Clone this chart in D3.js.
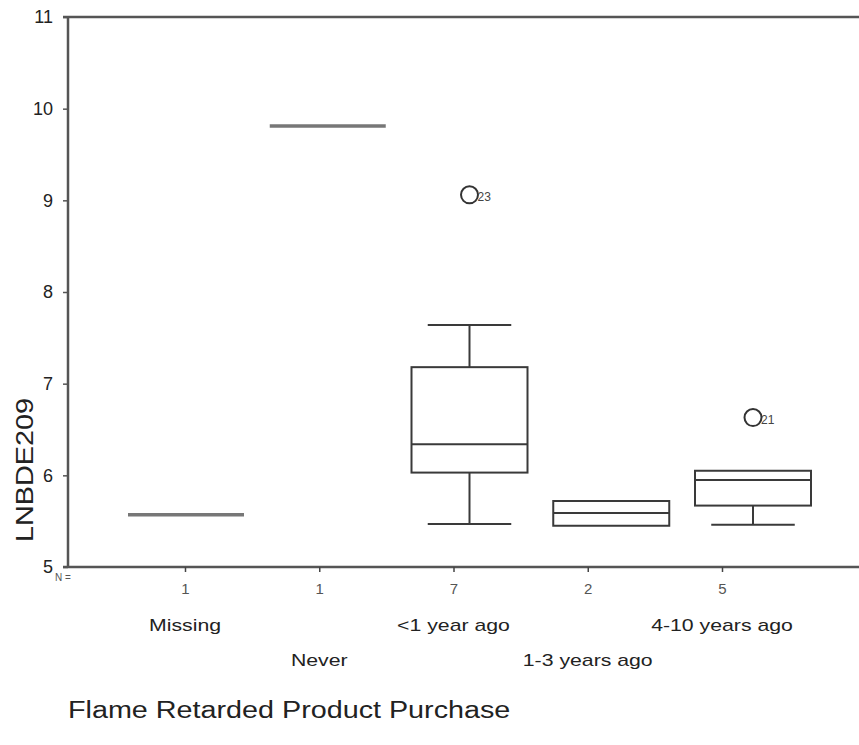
<!DOCTYPE html>
<html>
<head>
<meta charset="utf-8">
<script src="https://cdn.jsdelivr.net/npm/d3@7"></script>
<style>
  body { margin: 0; background: #fff; }
  svg { font-family: "Liberation Sans", Arial, sans-serif; }
</style>
</head>
<body>
<div id="chart"></div>
<script>
// chart data
var categories = ["Missing", "Never", "<1 year ago", "1-3 years ago", "4-10 years ago"];
var counts = [1, 1, 7, 2, 5];
// five-number summaries: [low whisker, q1, median, q3, high whisker]
var lows    = [5.57, 9.81, 5.47, 5.45, 5.46];
var q1s     = [5.57, 9.81, 6.03, 5.45, 5.67];
var medians = [5.57, 9.81, 6.34, 5.59, 5.95];
var q3s     = [5.57, 9.81, 7.18, 5.72, 6.05];
var highs   = [5.57, 9.81, 7.64, 5.72, 6.05];
var outliers = [
  { cat: "<1 year ago", value: 9.06, id: "23" },
  { cat: "4-10 years ago", value: 6.63, id: "21" }
];
var yTicks = [5, 6, 7, 8, 9, 10, 11];

var svgWidth = 859;
var svgHeight = 745;

var svg = d3.select("#chart")
  .append("svg")
  .attr("width", svgWidth)
  .attr("height", svgHeight);

var axisLeftX = 68;
var plotTop = 17;
var plotBottom = 567;
// the scanned fonts are wide, so text gets stretched sideways a bit
var stretch = 1.25;

var yScale = d3.scaleLinear()
  .domain([5, 11])
  .range([plotBottom, plotTop]);

// boxes and tick labels drift apart a bit in the original, so two point scales
var xBox = d3.scalePoint()
  .domain(categories)
  .range([186, 753]);

var xTick = d3.scalePoint()
  .domain(categories)
  .range([185, 722]);

var boxWidth = 116;
var lineColor = "#3a3a3a";

var data = categories.map(function(c, i) {
  return { cat: c, n: counts[i], low: lows[i], q1: q1s[i], med: medians[i], q3: q3s[i], high: highs[i] };
});

// frame: left axis, top line, bottom axis
var leftAxis = d3.axisLeft(yScale)
  .tickValues(yTicks)
  .tickSize(5)
  .tickPadding(10)
  .tickFormat(d3.format("d"));

var gy = svg.append("g")
  .attr("transform", `translate(${axisLeftX}, 0)`)
  .call(leftAxis);
gy.select(".domain").remove();
gy.selectAll(".tick line").attr("stroke", "#555").attr("stroke-width", 1.5);
gy.selectAll(".tick text")
  .attr("font-size", 18)
  .attr("fill", "#222")
  .style("font-family", "Liberation Sans, Arial, sans-serif");

svg.append("line")
  .attr("x1", axisLeftX).attr("x2", axisLeftX)
  .attr("y1", plotTop).attr("y2", plotBottom)
  .attr("stroke", "#555").attr("stroke-width", 2.5);

svg.append("line")
  .attr("x1", axisLeftX - 5).attr("x2", svgWidth)
  .attr("y1", plotTop).attr("y2", plotTop)
  .attr("stroke", "#555").attr("stroke-width", 2.5);

svg.append("line")
  .attr("x1", axisLeftX - 5).attr("x2", svgWidth)
  .attr("y1", plotBottom).attr("y2", plotBottom)
  .attr("stroke", "#555").attr("stroke-width", 2.5);

// bottom ticks + N counts
var bottomAxis = d3.axisBottom(xTick)
  .tickSize(5)
  .tickPadding(11)
  .tickFormat(function(d, i) { return counts[i]; });

var gx = svg.append("g")
  .attr("transform", `translate(0, ${plotBottom})`)
  .call(bottomAxis);
gx.select(".domain").remove();
gx.selectAll(".tick line").attr("stroke", "#444").attr("stroke-width", 1.5);
gx.selectAll(".tick text")
  .attr("font-size", 15)
  .attr("fill", "#555")
  .style("font-family", "Liberation Sans, Arial, sans-serif");

svg.append("text")
  .attr("x", 55)
  .attr("y", plotBottom + 14)
  .attr("font-size", 10)
  .attr("fill", "#555")
  .text("N =");

// category labels, staggered on two rows
svg.selectAll("text.catlabel")
  .data(categories)
  .enter()
  .append("text")
  .attr("class", "catlabel")
  .attr("transform", (d, i) => `translate(${xTick(d)}, ${i % 2 === 0 ? 631 : 666}) scale(${stretch}, 1)`)
  .attr("text-anchor", "middle")
  .attr("font-size", 17)
  .attr("fill", "#222")
  .text(d => d);

// boxes
var boxes = svg.selectAll("g.box")
  .data(data)
  .enter()
  .append("g")
  .attr("class", "box");

// single-value groups drawn as a plain grey bar
boxes.filter(d => d.n === 1)
  .append("line")
  .attr("x1", d => xBox(d.cat) - boxWidth / 2)
  .attr("x2", d => xBox(d.cat) + boxWidth / 2)
  .attr("y1", d => yScale(d.med))
  .attr("y2", d => yScale(d.med))
  .attr("stroke", "#777")
  .attr("stroke-width", 3.5);

var multi = boxes.filter(d => d.n > 1);

// whiskers
multi.filter(d => d.high > d.q3)
  .append("line")
  .attr("x1", d => xBox(d.cat)).attr("x2", d => xBox(d.cat))
  .attr("y1", d => yScale(d.high)).attr("y2", d => yScale(d.q3))
  .attr("stroke", lineColor).attr("stroke-width", 2);
multi.filter(d => d.high > d.q3)
  .append("line")
  .attr("x1", d => xBox(d.cat) - boxWidth * 0.36)
  .attr("x2", d => xBox(d.cat) + boxWidth * 0.36)
  .attr("y1", d => yScale(d.high)).attr("y2", d => yScale(d.high))
  .attr("stroke", lineColor).attr("stroke-width", 2);
multi.filter(d => d.low < d.q1)
  .append("line")
  .attr("x1", d => xBox(d.cat)).attr("x2", d => xBox(d.cat))
  .attr("y1", d => yScale(d.q1)).attr("y2", d => yScale(d.low))
  .attr("stroke", lineColor).attr("stroke-width", 2);
multi.filter(d => d.low < d.q1)
  .append("line")
  .attr("x1", d => xBox(d.cat) - boxWidth * 0.36)
  .attr("x2", d => xBox(d.cat) + boxWidth * 0.36)
  .attr("y1", d => yScale(d.low)).attr("y2", d => yScale(d.low))
  .attr("stroke", lineColor).attr("stroke-width", 2);

multi.append("rect")
  .attr("x", d => xBox(d.cat) - boxWidth / 2)
  .attr("y", d => yScale(d.q3))
  .attr("width", boxWidth)
  .attr("height", d => yScale(d.q1) - yScale(d.q3))
  .attr("fill", "none")
  .attr("stroke", lineColor)
  .attr("stroke-width", 2);

multi.append("line")
  .attr("x1", d => xBox(d.cat) - boxWidth / 2)
  .attr("x2", d => xBox(d.cat) + boxWidth / 2)
  .attr("y1", d => yScale(d.med))
  .attr("y2", d => yScale(d.med))
  .attr("stroke", lineColor)
  .attr("stroke-width", 2);

// outliers, drawn as O with case number
var outs = svg.selectAll("g.outlier")
  .data(outliers)
  .enter()
  .append("g")
  .attr("class", "outlier");

outs.append("ellipse")
  .attr("cx", d => xBox(d.cat))
  .attr("cy", d => yScale(d.value))
  .attr("rx", 8.5)
  .attr("ry", 8.5)
  .attr("fill", "none")
  .attr("stroke", "#333")
  .attr("stroke-width", 2);

outs.append("text")
  .attr("x", d => xBox(d.cat) + 8)
  .attr("y", d => yScale(d.value) + 6)
  .attr("font-size", 12)
  .attr("fill", "#444")
  .text(d => d.id);

// axis titles
svg.append("text")
  .attr("transform", "translate(33, 470) rotate(-90) scale(1.2, 1)")
  .attr("text-anchor", "middle")
  .attr("font-size", 24)
  .attr("fill", "#222")
  .text("LNBDE209");

svg.append("text")
  .attr("transform", `translate(68, 718) scale(${stretch}, 1)`)
  .attr("font-size", 23)
  .attr("fill", "#222")
  .text("Flame Retarded Product Purchase");
</script>
</body>
</html>
